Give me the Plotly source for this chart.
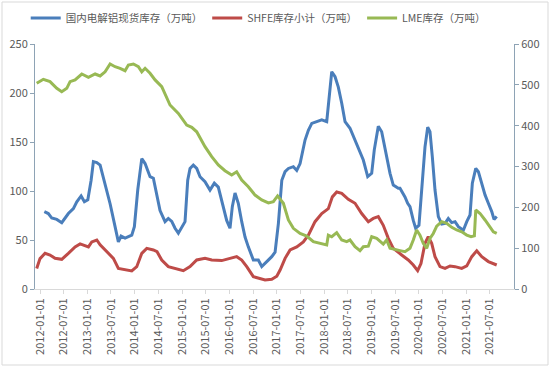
import pandas as pd
import plotly.graph_objects as go

# ---- data (time as decimal year) ----
domestic_t = [2012.091, 2012.175, 2012.247, 2012.353, 2012.458, 2012.597, 2012.703, 2012.775, 2012.866, 2012.935,
              2013.007, 2013.077, 2013.125, 2013.197, 2013.267, 2013.372, 2013.478, 2013.583, 2013.653, 2013.710,
              2013.794, 2013.936, 2013.991, 2014.062, 2014.147, 2014.217, 2014.322, 2014.392, 2014.464, 2014.533,
              2014.639, 2014.708, 2014.780, 2014.850, 2014.920, 2014.991, 2015.061, 2015.118, 2015.167, 2015.236,
              2015.308, 2015.378, 2015.483, 2015.589, 2015.680, 2015.764, 2015.836, 2015.941, 2016.011, 2016.060,
              2016.117, 2016.186, 2016.258, 2016.328, 2016.397, 2016.503, 2016.608, 2016.680, 2016.786, 2016.891,
              2016.961, 2017.031, 2017.103, 2017.172, 2017.242, 2017.347, 2017.419, 2017.489, 2017.594, 2017.664,
              2017.736, 2017.841, 2017.947, 2018.052, 2018.122, 2018.158, 2018.228, 2018.297, 2018.369, 2018.439,
              2018.544, 2018.650, 2018.720, 2018.825, 2018.918, 2019.002, 2019.057, 2019.142, 2019.213, 2019.283,
              2019.389, 2019.458, 2019.564, 2019.600, 2019.705, 2019.762, 2019.811, 2019.881, 2019.931, 2020.001,
              2020.058, 2020.128, 2020.185, 2020.233, 2020.282, 2020.339, 2020.409, 2020.480, 2020.550, 2020.619,
              2020.691, 2020.761, 2020.831, 2020.936, 2021.008, 2021.077, 2021.126, 2021.198, 2021.253, 2021.325,
              2021.394, 2021.464, 2021.536, 2021.584, 2021.641]
domestic_v = [78.9, 77, 72.4, 71, 67.7, 77, 82, 89, 95, 89,
              91, 111, 130, 129, 126.5, 108, 87, 63.6, 48, 54,
              52, 55, 63.6, 101, 133, 128, 114.6, 113, 97, 80,
              68.7, 72, 69, 62, 57, 63.6, 68.7, 111, 123, 126.5,
              123, 114.6, 109.5, 101, 108, 104, 91, 70, 62, 84,
              98, 87.5, 68.7, 53, 43, 29.6, 29.6, 23, 28, 33,
              37.5, 67, 111, 119.7, 123, 124.8, 121, 128, 152, 162,
              169, 170.7, 172.5, 170.7, 203, 221.7, 216.6, 206, 189.5, 170.7,
              164, 152, 145, 131.6, 114.6, 118, 142, 166, 160.5, 142,
              118, 106, 102.7, 102.7, 94, 87.5, 84, 70, 62, 65,
              101, 145, 165, 160.5, 135, 101, 73.8, 66.3, 67, 72,
              67.7, 68.7, 63.6, 60, 68.7, 75.5, 108, 123, 119.7, 108,
              96, 87.5, 79, 71, 74]

shfe_t = [2011.930, 2012.000, 2012.106, 2012.211, 2012.317, 2012.458, 2012.597, 2012.739, 2012.844, 2012.950,
          2013.020, 2013.091, 2013.197, 2013.267, 2013.408, 2013.547, 2013.653, 2013.794, 2013.936, 2014.041,
          2014.147, 2014.252, 2014.392, 2014.470, 2014.569, 2014.708, 2014.850, 2015.025, 2015.167, 2015.308,
          2015.483, 2015.625, 2015.836, 2016.011, 2016.152, 2016.258, 2016.364, 2016.503, 2016.644, 2016.750,
          2016.891, 2016.997, 2017.067, 2017.172, 2017.278, 2017.419, 2017.558, 2017.664, 2017.805, 2017.947,
          2018.086, 2018.171, 2018.263, 2018.369, 2018.508, 2018.650, 2018.791, 2018.931, 2019.036, 2019.142,
          2019.247, 2019.353, 2019.458, 2019.564, 2019.636, 2019.775, 2019.881, 2019.973, 2020.043, 2020.128,
          2020.197, 2020.269, 2020.339, 2020.444, 2020.550, 2020.656, 2020.761, 2020.902, 2021.008, 2021.114,
          2021.219, 2021.325, 2021.464, 2021.641]
shfe_v = [21, 31, 36.4, 34.7, 31.3, 30.3, 36.4, 43, 46, 44,
          43, 48, 50, 45, 38, 31.3, 21, 20, 18.4, 22.8,
          36.4, 41.5, 39.8, 38, 29.6, 22.8, 21, 18.7, 22.8, 29.6,
          31.3, 29.6, 29, 31.3, 33, 29.6, 22.8, 12.6, 10.9, 9.2,
          9.9, 13, 19.4, 31.3, 39.8, 43, 48, 55, 68.7, 77,
          82, 94, 99, 97.6, 91.5, 87.5, 77, 68.7, 72, 73.8,
          65, 51.7, 41.5, 38, 34.7, 29.6, 24.5, 18.7, 26, 46.6,
          53.4, 46.6, 33, 22.8, 21, 23.5, 22.8, 21, 23.5, 33,
          39, 33, 28, 24.5]

lme_t = [2011.930, 2012.070, 2012.211, 2012.353, 2012.458, 2012.564, 2012.633, 2012.739, 2012.880, 2013.020,
         2013.161, 2013.267, 2013.372, 2013.478, 2013.583, 2013.689, 2013.794, 2013.864, 2013.970, 2014.075,
         2014.147, 2014.217, 2014.322, 2014.428, 2014.569, 2014.744, 2014.920, 2015.097, 2015.203, 2015.308,
         2015.483, 2015.625, 2015.764, 2015.905, 2016.047, 2016.152, 2016.258, 2016.397, 2016.539, 2016.680,
         2016.820, 2016.925, 2017.014, 2017.136, 2017.242, 2017.347, 2017.489, 2017.630, 2017.769, 2017.947,
         2018.052, 2018.086, 2018.158, 2018.263, 2018.369, 2018.475, 2018.544, 2018.650, 2018.755, 2018.825,
         2018.931, 2019.002, 2019.108, 2019.247, 2019.318, 2019.389, 2019.494, 2019.600, 2019.705, 2019.811,
         2019.881, 2019.952, 2020.022, 2020.092, 2020.164, 2020.233, 2020.303, 2020.375, 2020.480, 2020.585,
         2020.691, 2020.796, 2020.902, 2021.008, 2021.099, 2021.169, 2021.198, 2021.289, 2021.394, 2021.500,
         2021.570, 2021.641]
lme_v = [503.7, 513.6, 507.8, 491.5, 483.3, 491.5, 507.8, 511.9, 526.5, 518.4,
         526.5, 521.6, 532, 551, 544.4, 540.5, 534.6, 548.6, 551, 544.4,
         532, 540.5, 528.3, 512, 495.5, 450.6, 430, 401.6, 396, 385,
         348.5, 324, 303.7, 289.7, 279, 287, 267, 250.5, 230, 218,
         211, 214, 228, 210, 169, 148.6, 136, 129.8, 116, 110,
         107.8, 132, 128, 138, 120, 116, 120, 103.6, 94, 103.6,
         105, 128, 124, 110, 120, 99.7, 97.6, 94, 91.4, 99.7,
         120, 144.5, 132, 112, 99.7, 124, 136, 154, 165, 161,
         151, 144.5, 140, 132, 128, 130, 193.5, 185, 169, 152.6,
         140, 136]

names = ["国内电解铝现货库存（万吨）", "SHFE库存小计（万吨）", "LME库存（万吨）"]
tick_dates = [f"{y}-{m:02d}-01" for y in range(2012, 2022) for m in (1, 7)]


def to_date(t):
    y = int(t)
    start = pd.Timestamp(year=y, month=1, day=1)
    end = pd.Timestamp(year=y + 1, month=1, day=1)
    return start + (end - start) * (t - y)


fig = go.Figure()
fig.add_trace(go.Scatter(x=[to_date(t) for t in domestic_t], y=domestic_v, name=names[0],
                         mode="lines", line=dict(color="#4A7EBB", width=3), yaxis="y"))
fig.add_trace(go.Scatter(x=[to_date(t) for t in shfe_t], y=shfe_v, name=names[1],
                         mode="lines", line=dict(color="#BE4B48", width=3), yaxis="y"))
fig.add_trace(go.Scatter(x=[to_date(t) for t in lme_t], y=lme_v, name=names[2],
                         mode="lines", line=dict(color="#98B954", width=3), yaxis="y2"))

font = "Noto Sans CJK SC, Noto Sans, sans-serif"
fig.update_layout(
    width=550, height=367,
    margin=dict(l=35, r=36, t=44, b=78, autoexpand=False),
    paper_bgcolor="white", plot_bgcolor="white",
    font=dict(family=font, size=11, color="#595959"),
    showlegend=True,
    legend=dict(orientation="h", x=0.466, xanchor="center", y=1.106, yanchor="middle",
                font=dict(size=10.5, color="#595959"), itemwidth=30, tracegroupgap=0,
                bgcolor="rgba(0,0,0,0)"),
    xaxis=dict(type="date", range=[to_date(2011.894), to_date(2022.006)],
               tickvals=tick_dates, ticktext=tick_dates, tickangle=-90, automargin=False,
               showgrid=False, zeroline=False, showline=True, linecolor="#D9D9D9",
               ticks="outside", ticklen=4, tickcolor="#D9D9D9",
               tickfont=dict(size=11, color="#595959")),
    yaxis=dict(range=[0, 250], dtick=50, showgrid=False, zeroline=False, showline=True,
               automargin=False,
               linecolor="#8EA3B5", ticks="outside", ticklen=4, tickcolor="#8EA3B5",
               tickfont=dict(size=11, color="#595959")),
    yaxis2=dict(range=[0, 600], dtick=100, overlaying="y", side="right", showgrid=False,
                automargin=False,
                zeroline=False, showline=True, linecolor="#8EA3B5", ticks="outside",
                ticklen=4, tickcolor="#8EA3B5", tickfont=dict(size=11, color="#595959")),
    shapes=[dict(type="rect", xref="paper", yref="paper",
                 x0=(2 - 35) / 479, x1=(548 - 35) / 479,
                 y0=(289 - 365) / 245, y1=(289 - 2) / 245,
                 line=dict(color="#D9D9D9", width=1), fillcolor="rgba(0,0,0,0)", layer="above")],
)

fig.write_html("out.html", config={"displayModeBar": False},
               post_script="document.body.style.margin='0';")
